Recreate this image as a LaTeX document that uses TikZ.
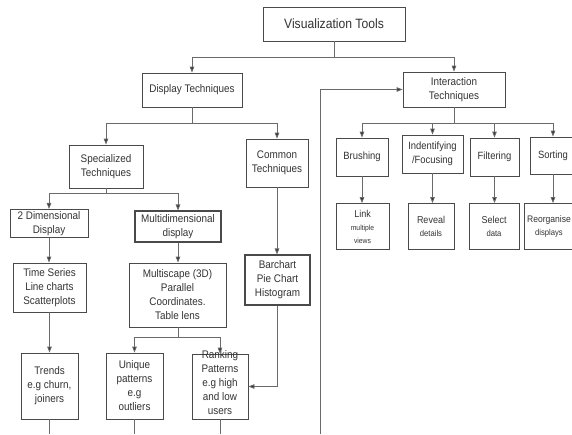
\documentclass[tikz,border=0pt]{standalone}
\usepackage{fontspec}
\usetikzlibrary{arrows.meta}
\newfontfamily\labfont[FakeStretch=0.9]{Liberation Sans}
\definecolor{boxc}{HTML}{4A4A4A}
\definecolor{linec}{HTML}{6A6A6A}
\definecolor{txtc}{HTML}{333333}
\newcommand{\lbl}[2]{\labfont\fontsize{#1}{#2}\selectfont}
\begin{document}
\begin{tikzpicture}[x=1pt,y=-1pt,
  box/.style={draw=boxc, line width=0.8pt, fill=white, align=center,
    inner sep=2pt, text=txtc, font=\lbl{11}{14}},
  heavy/.style={line width=1.05pt},
  conn/.style={draw=linec, line width=0.8pt},
  arr/.style={conn, -{Triangle[length=6pt,width=4.5pt]}, arrows={[fill=black!80]}}]
\useasboundingbox (0,0) rectangle (572,434);
\clip (0,0) rectangle (572,434);

% top level
\node[box, font=\lbl{13.5}{16}, minimum width=142, minimum height=34] (vt) at (334,24) {Visualization Tools};
\node[box, minimum width=100, minimum height=34] (dt) at (192,90) {Display Techniques};
\node[box, minimum width=102, minimum height=35] (it) at (454,89.5) {Interaction\\Techniques};

% display techniques branch
\node[box, minimum width=74, minimum height=43] (spec) at (106,166.5) {Specialized\\Techniques};
\node[box, minimum width=62, minimum height=48] (common) at (277,163) {Common\\Techniques};
\node[box, minimum width=78, minimum height=27] (twod) at (49,223.5) {2 Dimensional\\Display};
\node[box, heavy, minimum width=86, minimum height=31] (multi) at (178,226.5) {Multidimensional\\display};
\node[box, minimum width=73, minimum height=49] (ts) at (49.5,287.5) {Time Series\\Line charts\\Scatterplots};
\node[box, minimum width=97, minimum height=64] (mscope) at (177.5,295) {Multiscape (3D)\\Parallel\\Coordinates.\\Table lens};
\node[box, heavy, minimum width=65, minimum height=50] (bar) at (277.5,280) {Barchart\\Pie Chart\\Histogram};
\node[box, minimum width=57, minimum height=66] (trends) at (49.5,386) {Trends\\e.g churn,\\joiners};
\node[box, minimum width=57, minimum height=66] (uniq) at (134.5,386) {Unique\\patterns\\e.g\\outliers};
\node[box, minimum width=56, minimum height=65] (rank) at (220,386.5)
  {\smash{\begin{tabular}{@{}c@{}}Ranking\\Patterns\\e.g high\\and low\\users\end{tabular}}};

% interaction techniques branch
\node[box, font=\lbl{10.5}{14}, minimum width=52, minimum height=38] (brush) at (362,157) {Brushing};
\node[box, font=\lbl{10.5}{14}, minimum width=61, minimum height=38] (ident) at (432.5,154) {Indentifying\\/Focusing};
\node[box, font=\lbl{10.5}{14}, minimum width=49, minimum height=38] (filt) at (494.5,157) {Filtering};
\node[box, font=\lbl{10.5}{14}, minimum width=46, minimum height=37] (sort) at (553,155.5) {Sorting};
\node[box, font=\lbl{10}{13}, minimum width=53, minimum height=46] (link) at (362.5,226.5) {Link\\{\lbl{7.5}{13}multiple}\\{\lbl{7.5}{13}views}};
\node[box, font=\lbl{10}{13}, minimum width=46, minimum height=46] (reveal) at (431,226.5) {Reveal\\{\lbl{8.5}{13}details}};
\node[box, font=\lbl{10}{13}, minimum width=50, minimum height=46] (select) at (494,226.5) {Select\\{\lbl{8.5}{13}data}};
\node[box, font=\lbl{9.5}{13}, inner sep=1pt, minimum width=50, minimum height=46] (reorg) at (549,226.5) {Reorganise\\{\lbl{8.5}{13}displays}};

% free ends along the lower border
\coordinate (bottom) at (0,434);
\coordinate (loopstart) at (320,434);

% Visualization Tools -> two technique families
\coordinate (bus0) at (334,57);
\draw[conn] (vt.south) -- (vt.south |- bus0);
\draw[arr] (vt.south |- bus0) -| (dt.north);
\draw[arr] (vt.south |- bus0) -| (it.north);

% Display Techniques -> specialized / common
\coordinate (bus1) at (192,123);
\draw[conn] (dt.south) -- (bus1);
\draw[arr] (bus1) -| (spec.north);
\draw[arr] (bus1) -| (common.north);

% Specialized -> 2D / multidimensional
\coordinate (bus2) at (106,193);
\draw[conn] (spec.south) -- (bus2);
\draw[arr] (bus2) -| (twod.north);
\draw[arr] (bus2) -| (multi.north);

\draw[arr] (twod.south) -- (twod.south |- ts.north);
\draw[arr] (multi.south) -- (multi.south |- mscope.north);
\draw[arr] (ts.south) -- (ts.south |- trends.north);

% Multiscape -> unique / ranking
\coordinate (bus3) at (178,337);
\draw[conn] (mscope.south -| bus3) -- (bus3);
\draw[arr] (bus3) -| (uniq.north);
\draw[arr] (bus3) -| (rank.north);

% Common -> charts -> ranking patterns
\draw[arr] (common.south) -- (common.south |- bar.north);
\draw[arr] (bar.south) |- (rank.east);

% lines continuing past the lower border
\draw[conn] (trends.south) -- (trends.south |- bottom);
\draw[conn] (uniq.south) -- (uniq.south |- bottom);
\draw[conn] (rank.south) -- (rank.south |- bottom);

% feedback into Interaction Techniques
\draw[arr] (loopstart) |- (it.west);

% Interaction Techniques -> four operations
\coordinate (bus4) at (454,123);
\draw[conn] (it.south -| bus4) -- (bus4);
\draw[arr] (bus4) -| (brush.north);
\draw[arr] (bus4) -| (ident.north);
\draw[arr] (bus4) -| (filt.north);
\draw[arr] (bus4) -| (sort.north);

\draw[arr] (brush.south) -- (brush.south |- link.north);
\draw[arr] (ident.south) -- (ident.south |- reveal.north);
\draw[arr] (filt.south) -- (filt.south |- select.north);
\draw[arr] (sort.south) -- (sort.south |- reorg.north);
\end{tikzpicture}
\end{document}
